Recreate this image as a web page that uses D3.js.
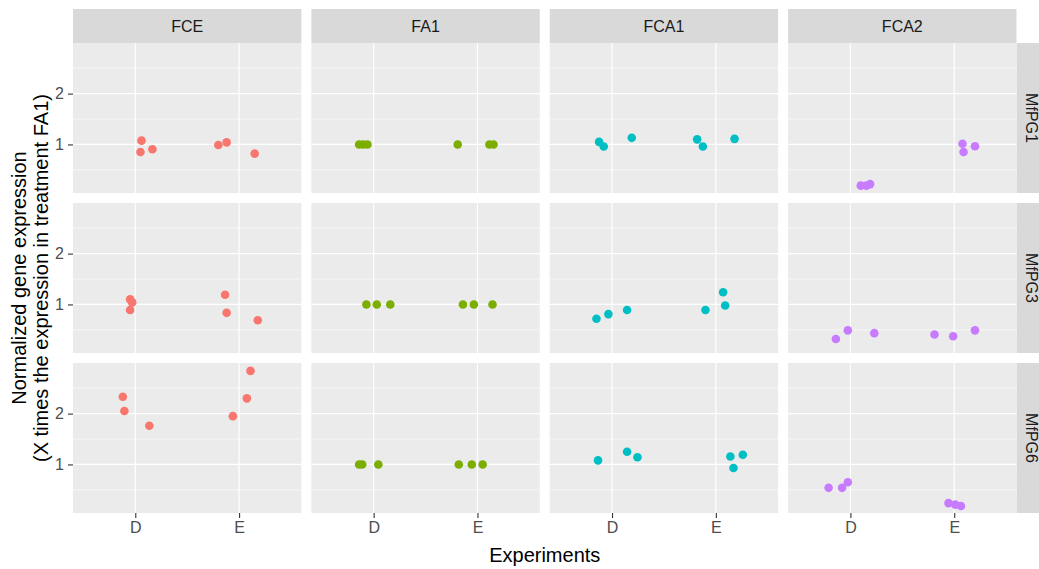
<!DOCTYPE html>
<html><head><meta charset="utf-8">
<script src="https://cdn.jsdelivr.net/npm/d3@7/dist/d3.min.js"></script>
<style>body{margin:0;background:#fff}svg{display:block;font-family:"Liberation Sans",Arial,sans-serif}</style>
</head><body><svg id="c" width="1039" height="569"></svg>
<script>
const treatments = ["FCE","FA1","FCA1","FCA2"];
const genes = ["MfPG1","MfPG3","MfPG6"];
const experiments = ["D","E"];
const colors = ["#F8766D","#7CAE00","#00BFC4","#C77CFF"];
const yTicks = [1,2];
const yMinor = [0.5,1.5,2.5];
const yDomain = [0.045, 2.995];
// [treatment, experiment, value, jitter (in category units)]
const MfPG1 = [
 ["FCE","D",1.075,0.06],["FCE","D",0.85,0.05],["FCE","D",0.905,0.165],
 ["FCE","E",0.99,-0.20],["FCE","E",1.04,-0.12],["FCE","E",0.82,0.15],
 ["FA1","D",1.0,-0.14],["FA1","D",1.0,-0.10],["FA1","D",1.0,-0.06],
 ["FA1","E",1.0,-0.19],["FA1","E",1.0,0.115],["FA1","E",1.0,0.155],
 ["FCA1","D",1.05,-0.125],["FCA1","D",0.96,-0.08],["FCA1","D",1.13,0.19],
 ["FCA1","E",1.10,-0.18],["FCA1","E",0.96,-0.125],["FCA1","E",1.11,0.18],
 ["FCA2","D",0.19,0.10],["FCA2","D",0.19,0.155],["FCA2","D",0.22,0.19],
 ["FCA2","E",1.015,0.08],["FCA2","E",0.85,0.09],["FCA2","E",0.965,0.20]
];
const MfPG3 = [
 ["FCE","D",1.10,-0.05],["FCE","D",1.04,-0.03],["FCE","D",0.89,-0.05],
 ["FCE","E",1.19,-0.135],["FCE","E",0.835,-0.12],["FCE","E",0.69,0.18],
 ["FA1","D",1.0,-0.07],["FA1","D",1.0,0.03],["FA1","D",1.0,0.16],
 ["FA1","E",1.0,-0.14],["FA1","E",1.0,-0.035],["FA1","E",1.0,0.145],
 ["FCA1","D",0.72,-0.15],["FCA1","D",0.81,-0.035],["FCA1","D",0.89,0.145],
 ["FCA1","E",0.89,-0.10],["FCA1","E",1.24,0.07],["FCA1","E",0.98,0.09],
 ["FCA2","D",0.32,-0.14],["FCA2","D",0.49,-0.025],["FCA2","D",0.435,0.23],
 ["FCA2","E",0.41,-0.19],["FCA2","E",0.375,-0.01],["FCA2","E",0.49,0.20]
];
const MfPG6 = [
 ["FCE","D",2.33,-0.12],["FCE","D",2.05,-0.105],["FCE","D",1.76,0.135],
 ["FCE","E",1.95,-0.06],["FCE","E",2.30,0.075],["FCE","E",2.84,0.11],
 ["FA1","D",1.0,-0.14],["FA1","D",1.0,-0.11],["FA1","D",1.0,0.045],
 ["FA1","E",1.0,-0.18],["FA1","E",1.0,-0.055],["FA1","E",1.0,0.05],
 ["FCA1","D",1.08,-0.135],["FCA1","D",1.25,0.145],["FCA1","D",1.14,0.245],
 ["FCA1","E",1.155,0.14],["FCA1","E",1.19,0.26],["FCA1","E",0.93,0.17],
 ["FCA2","D",0.54,-0.21],["FCA2","D",0.54,-0.08],["FCA2","D",0.65,-0.025],
 ["FCA2","E",0.24,-0.055],["FCA2","E",0.21,0.01],["FCA2","E",0.183,0.065]
];
const geneData = [MfPG1, MfPG3, MfPG6];

const svg = d3.select("#c");
const L = 73, R = 1016.5, T = 43, B = 513, gap = 10, stripH = 34;
const pw = (R - L - gap*3)/4, ph = (B - T - gap*2)/3;

const y = d3.scaleLinear().domain(yDomain).range([ph, 0]);
const x = d3.scaleLinear().domain([0.4, 2.6]).range([0, pw]);

// top strips
treatments.forEach((t,i)=>{
  const px = L + i*(pw+gap);
  svg.append("rect").attr("x",px).attr("y",T-stripH).attr("width",pw).attr("height",stripH).attr("fill","#D9D9D9");
  svg.append("text").attr("x",px+pw/2).attr("y",T-stripH/2).attr("dy","0.36em").attr("text-anchor","middle")
    .attr("font-size",16).attr("fill","#1A1A1A").text(t);
});

genes.forEach((g,r)=>{
  const py = T + r*(ph+gap);
  svg.append("rect").attr("x",R).attr("y",py).attr("width",stripH).attr("height",ph).attr("fill","#D9D9D9");
  svg.append("text").attr("transform",`translate(${R+stripH/2-2},${py+ph/2}) rotate(90)`)
    .attr("dy","0.36em").attr("text-anchor","middle").attr("font-size",16).attr("fill","#1A1A1A").text(g);
  const ya = svg.append("g").attr("transform",`translate(${L},${py})`)
    .call(d3.axisLeft(y).tickValues(yTicks).tickSize(5).tickPadding(4).tickFormat(d3.format("d")));
  ya.select(".domain").remove();
  ya.selectAll("line").attr("stroke","#333333").attr("stroke-width",1.1);
  ya.selectAll("text").attr("font-size",16).attr("fill","#4D4D4D").attr("font-family","Liberation Sans, Arial, sans-serif");

  treatments.forEach((t,c)=>{
    const px = L + c*(pw+gap);
    const gp = svg.append("g").attr("transform",`translate(${px},${py})`);
    gp.append("rect").attr("width",pw).attr("height",ph).attr("fill","#EBEBEB");
    gp.selectAll(".mn").data(yMinor).join("line").attr("x1",0).attr("x2",pw)
      .attr("y1",d=>y(d)).attr("y2",d=>y(d)).attr("stroke","#fff").attr("stroke-width",0.6);
    gp.selectAll(".mj").data(yTicks).join("line").attr("x1",0).attr("x2",pw)
      .attr("y1",d=>y(d)).attr("y2",d=>y(d)).attr("stroke","#fff").attr("stroke-width",1.2);
    gp.selectAll(".vx").data(experiments).join("line").attr("y1",0).attr("y2",ph)
      .attr("x1",(d,i)=>x(i+1)).attr("x2",(d,i)=>x(i+1)).attr("stroke","#fff").attr("stroke-width",1.2);
    const pts = geneData[r].filter(d=>d[0]===t);
    gp.selectAll("circle").data(pts).join("circle")
      .attr("cx",d=>x(experiments.indexOf(d[1])+1+d[3]))
      .attr("cy",d=>y(d[2])).attr("r",4.3).attr("fill",colors[c]);
    if (r===genes.length-1){
      const xa = svg.append("g").attr("transform",`translate(${px},${B})`)
        .call(d3.axisBottom(x).tickValues([1,2]).tickSize(5).tickPadding(4).tickFormat(d=>experiments[d-1]));
      xa.select(".domain").remove();
      xa.selectAll("line").attr("stroke","#333333").attr("stroke-width",1.1);
      xa.selectAll("text").attr("font-size",16).attr("fill","#4D4D4D").attr("font-family","Liberation Sans, Arial, sans-serif");
    }
  });
});

svg.append("text").attr("x",(L+R)/2).attr("y",562).attr("text-anchor","middle").attr("font-size",20).attr("fill","#000").text("Experiments");
const yt = svg.append("text").attr("transform",`translate(0,${(T+B)/2}) rotate(-90)`).attr("text-anchor","middle").attr("font-size",20).attr("fill","#000");
yt.append("tspan").attr("x",0).attr("y",26).text("Normalized gene expression");
yt.append("tspan").attr("x",0).attr("y",48).text("(X times the expression in treatment FA1)");
</script></body></html>
